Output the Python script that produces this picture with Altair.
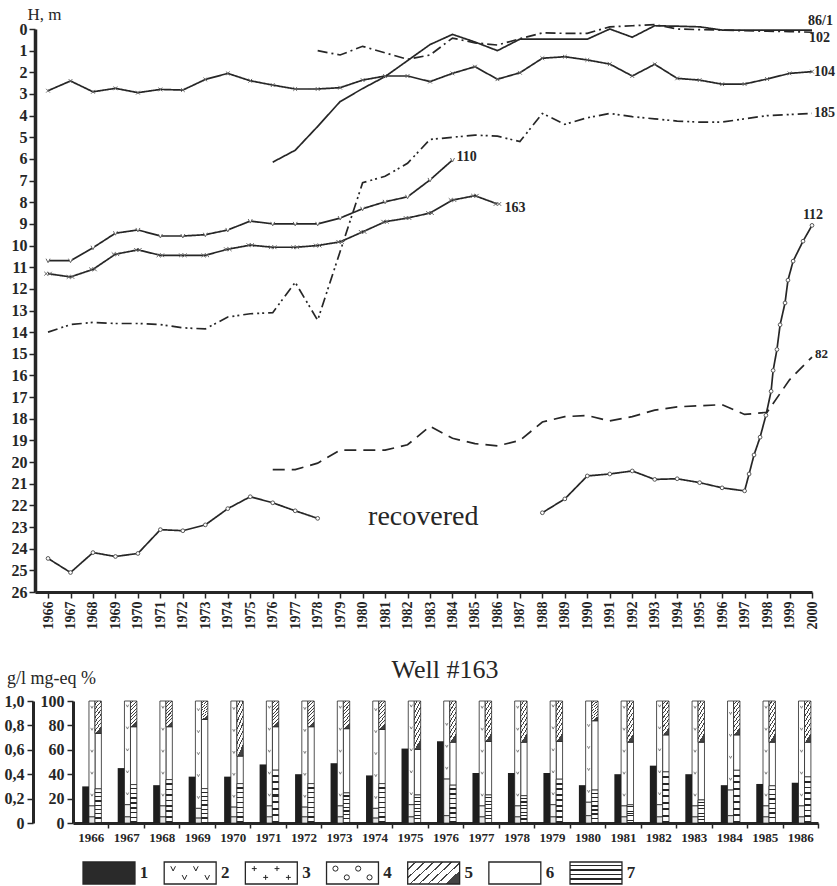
import altair as alt
import pandas as pd

# ============================ TOP PANEL DATA (H, m) ============================
years_104 = list(range(1966, 2001))
h_104 = [2.85, 2.40, 2.90, 2.74, 2.94, 2.79, 2.82, 2.33, 2.05, 2.39, 2.59, 2.77, 2.77, 2.71,
         2.36, 2.17, 2.17, 2.43, 2.05, 1.74, 2.32, 2.02, 1.35, 1.28, 1.43, 1.62, 2.17, 1.63,
         2.28, 2.36, 2.55, 2.54, 2.31, 2.05, 1.97]

years_861 = list(range(1976, 2001))
h_861 = [6.15, 5.6, 4.5, 3.35, 2.75, 2.2, 1.46, 0.72, 0.25, 0.6, 1.0, 0.47, 0.47, 0.47, 0.47,
         0.0, 0.38, -0.15, -0.13, -0.1, 0.05, 0.05, 0.05, 0.05, 0.05]

years_102 = list(range(1978, 2001))
h_102 = [1.0, 1.2, 0.8, 1.1, 1.4, 1.2, 0.42, 0.64, 0.74, 0.45, 0.18, 0.2, 0.2, -0.1, -0.15,
         -0.2, 0.0, 0.03, 0.05, 0.08, 0.1, 0.12, 0.15]

years_185 = list(range(1966, 1979)) + list(range(1980, 2001))
h_185 = [14.0, 13.65, 13.55, 13.6, 13.6, 13.65, 13.8, 13.85, 13.3, 13.15, 13.1, 11.7, 13.45,
         7.1, 6.8, 6.2, 5.1, 5.0, 4.9, 4.95, 5.2, 3.9, 4.4, 4.1, 3.9, 4.05, 4.15, 4.25, 4.3,
         4.3, 4.15, 4.0, 3.95, 3.9]

years_110 = list(range(1966, 1985))
h_110 = [10.7, 10.7, 10.1, 9.43, 9.28, 9.56, 9.56, 9.5, 9.28, 8.87, 9.0, 9.0, 9.0, 8.73, 8.3,
         7.98, 7.75, 6.97, 6.05]

years_163 = list(range(1966, 1987))
h_163 = [11.3, 11.45, 11.1, 10.4, 10.2, 10.45, 10.45, 10.45, 10.17, 9.98, 10.08, 10.08, 10.0,
         9.83, 9.37, 8.9, 8.73, 8.5, 7.9, 7.7, 8.08]

years_112a = list(range(1966, 1979))
h_112a = [24.45, 25.1, 24.18, 24.36, 24.22, 23.12, 23.17, 22.9, 22.15, 21.6, 21.88, 22.25, 22.6]

years_112b = [1988, 1989, 1990, 1991, 1992, 1993, 1994, 1995, 1996, 1997, 1997.2, 1997.42,
              1997.69, 1997.95, 1998.18, 1998.27, 1998.44, 1998.58, 1998.8, 1998.93, 1999.16,
              1999.6, 2000]
h_112b = [22.34, 21.7, 20.64, 20.55, 20.41, 20.8, 20.77, 20.95, 21.19, 21.33, 20.55, 19.67,
          18.85, 17.84, 16.73, 15.77, 14.8, 13.66, 12.65, 11.6, 10.72, 9.8, 9.07]

years_82 = list(range(1976, 2001))
h_82 = [20.35, 20.35, 20.05, 19.45, 19.45, 19.45, 19.2, 18.35, 18.9, 19.15, 19.25, 19.0, 18.15,
        17.9, 17.85, 18.1, 17.9, 17.6, 17.45, 17.4, 17.35, 17.8, 17.7, 16.2, 15.15]

top_ticks_x = list(range(1966, 2001))
top_ticks_y = list(range(0, 27))

# ============================ BOTTOM PANEL DATA (Well #163) ============================
chem_years = list(range(1966, 1987))
mineral_gl = [0.30, 0.45, 0.31, 0.38, 0.38, 0.48, 0.40, 0.49, 0.39, 0.61, 0.67, 0.41, 0.41,
              0.41, 0.31, 0.40, 0.47, 0.40, 0.31, 0.32, 0.33]
# left column (mg-eq %): top of component 4 and of component 3, rest is component 2
c4_top = [5, 5, 5, 4, 5, 5, 5, 5, 4, 5, 6, 5, 5, 5, 6, 5, 5, 5, 6, 5, 5]
c3_top = [14, 15, 14, 12, 13, 14, 13, 14, 12, 15, 36, 14, 14, 15, 17, 14, 15, 14, 27, 14, 14]
# right column (mg-eq %): top of component 7, bottom of component 5, between is component 6
c7_top = [28, 31.5, 35.6, 28.2, 32.3, 43.3, 32.3, 24.7, 32.3, 23, 31, 23, 22.4, 35.9, 27, 14.9,
          41.9, 18.9, 43.2, 30.5, 37.8]
c5_bottom = [73.4, 78.9, 78.9, 84.9, 54.8, 78.9, 78.9, 77.3, 76.7, 60.3, 66.2, 66.8, 66.2, 66.8,
             83.8, 66.2, 72.2, 66.2, 72.2, 66.2, 66.2]

legend_items = [1, 2, 3, 4, 5, 6, 7]
legend_labels = ["1", "2", "3", "4", "5", "6", "7"]

# ============================ TABLES ============================
def frame(well, years, values, seg=None):
    return pd.DataFrame({"well": well, "seg": seg or well, "year": years, "H": values})

lines_df = pd.concat([
    frame("86/1", years_861, h_861),
    frame("102", years_102, h_102),
    frame("104", years_104, h_104),
    frame("185", years_185, h_185),
    frame("110", years_110, h_110),
    frame("163", years_163, h_163),
    frame("112", years_112a, h_112a, "112a"),
    frame("112", years_112b, h_112b, "112b"),
    frame("82", years_82, h_82),
], ignore_index=True)

chem_df = pd.DataFrame({"year": chem_years, "gl": mineral_gl})
seg_rows = []
for i, yr in enumerate(chem_years):
    seg_rows += [
        {"year": yr, "col": "L", "pat": 4, "y0": 0, "y1": c4_top[i]},
        {"year": yr, "col": "L", "pat": 3, "y0": c4_top[i], "y1": c3_top[i]},
        {"year": yr, "col": "L", "pat": 2, "y0": c3_top[i], "y1": 100},
        {"year": yr, "col": "R", "pat": 7, "y0": 0, "y1": c7_top[i]},
        {"year": yr, "col": "R", "pat": 6, "y0": c7_top[i], "y1": c5_bottom[i]},
        {"year": yr, "col": "R", "pat": 5, "y0": c5_bottom[i], "y1": 100},
    ]
seg_df = pd.DataFrame(seg_rows)

# sparse "v" glyphs of component 2 inside the left columns
glyph_rows = []
for i, yr in enumerate(chem_years):
    lv = c3_top[i] + 9
    while lv < 97:
        glyph_rows.append({"year": yr, "lv": lv})
        lv += 18
glyph_df = pd.DataFrame(glyph_rows)

leg_df = pd.DataFrame({"item": legend_items, "label": legend_labels})
leg_glyph_rows = []
for item in (2, 3, 4):
    for k, (dx, row) in enumerate([(-0.21, 0.3), (-0.07, 0.7), (0.07, 0.3), (0.21, 0.7)]):
        leg_glyph_rows.append({"item": item, "gx": item + dx, "gy": row})
leg_glyph_df = pd.DataFrame(leg_glyph_rows)

# ============================ STYLE ============================
W, H = 837, 886
SERIF = "Liberation Serif"
INK = "#262626"

def stripes(n, frac_dark, x2, y2, dark=INK, light="white"):
    stops = []
    for k in range(n):
        a = k / n
        b = (k + 1 - frac_dark) / n
        c = (k + 1) / n
        stops += [{"offset": a, "color": light}, {"offset": b, "color": light},
                  {"offset": b, "color": dark}, {"offset": c, "color": dark}]
    return {"gradient": "linear", "x1": 0, "y1": 0, "x2": x2, "y2": y2, "stops": stops}

x_top = alt.Scale(domain=[1965.42, 2000.0], range=[35, 812], nice=False, zero=False)
y_top = alt.Scale(domain=[0, 26], range=[29, 592], nice=False, zero=False)
x_bot = alt.Scale(domain=[1965.5, 1986.5], range=[73, 818], nice=False, zero=False)
y_bot = alt.Scale(domain=[0, 100], range=[823, 701], nice=False, zero=False)
y_gl = alt.Scale(domain=[0, 1], range=[823, 701], nice=False, zero=False)
LEG_T, LEG_B = 862, 884
x_leg = alt.Scale(domain=[1, 7], range=[109, 596], nice=False, zero=False)
y_leg = alt.Scale(domain=[0, 1], range=[LEG_T, LEG_B], nice=False, zero=False)

ax_top_x = alt.Axis(orient="bottom", offset=-(H - 592), values=top_ticks_x, format="d",
                    labelAngle=270, labelFont=SERIF, labelFontWeight="bold", labelFontSize=14,
                    labelColor=INK, labelPadding=3, tickSize=6, tickColor=INK, tickWidth=1.5,
                    domainColor=INK, domainWidth=3, grid=False, title=None)
ax_top_y = alt.Axis(orient="left", offset=-35, values=top_ticks_y, labelFont=SERIF,
                    labelFontWeight="bold", labelFontSize=16, labelColor=INK, labelPadding=2,
                    tickSize=6, tickColor=INK, tickWidth=1.5, domainColor=INK, domainWidth=3.5,
                    grid=False, title="H, m", titleAngle=0, titleFont=SERIF,
                    titleFontWeight="normal", titleFontSize=17, titleColor=INK, titleX=-8,
                    titleY=14, titleAlign="left", titleBaseline="middle")

# ============================ TOP PANEL LAYERS ============================
wells = ["86/1", "102", "104", "185", "110", "163", "112", "82"]
dashes = [[1, 0], [10, 4, 2, 4], [1, 0], [10, 4, 2, 3, 2, 4], [1, 0], [1, 0], [1, 0], [12, 7]]

lines = alt.Chart(lines_df).mark_line(strokeWidth=1.7, color=INK).encode(
    x=alt.X("year:Q", scale=x_top, axis=ax_top_x),
    y=alt.Y("H:Q", scale=y_top, axis=ax_top_y),
    strokeDash=alt.StrokeDash("well:N", scale=alt.Scale(domain=wells, range=dashes), legend=None),
    detail="seg:N",
)

def markers(well, shape, size, filled=False):
    return alt.Chart(lines_df).transform_filter(alt.datum.well == well).mark_point(
        shape=shape, size=size, filled=filled, fill="white", stroke="#666", strokeWidth=1,
        opacity=1).encode(
        x=alt.X("year:Q", scale=x_top, axis=None),
        y=alt.Y("H:Q", scale=y_top, axis=None))

m104 = markers("104", "M-1,-1L1,1M-1,1L1,-1", 14)
m110 = markers("110", "M-1,-1L0,1L1,-1", 16)
m163 = markers("163", "M-2,-1L0,1M-2,1L0,-1M0,-1L2,1M0,1L2,-1", 14)
m112 = alt.Chart(lines_df).transform_filter(alt.datum.well == "112").mark_point(
    shape="circle", size=14, filled=True, fill="white", stroke="#555", strokeWidth=1,
    opacity=1).encode(x=alt.X("year:Q", scale=x_top, axis=None),
                      y=alt.Y("H:Q", scale=y_top, axis=None))

def end_label(text, year, h, dx, dy, align="left", size=14):
    d = pd.DataFrame({"year": [year], "H": [h], "t": [text]})
    return alt.Chart(d).mark_text(font=SERIF, fontWeight="bold", fontSize=size, color=INK,
                                  align=align, baseline="middle", dx=dx, dy=dy).encode(
        x=alt.X("year:Q", scale=x_top, axis=None),
        y=alt.Y("H:Q", scale=y_top, axis=None), text="t:N")

labels = [
    end_label("86/1", years_861[-1], h_861[-1], -4, -9),
    end_label("102", years_102[-1], h_102[-1], -3, 6),
    end_label("104", years_104[-1], h_104[-1], 2, 0),
    end_label("185", years_185[-1], h_185[-1], 2, 0),
    end_label("112", years_112b[-1], h_112b[-1], 1, -10, "center"),
    end_label("82", years_82[-1], h_82[-1], 3, -3, size=13),
    end_label("110", years_110[-1], h_110[-1], 4, -3),
    end_label("163", years_163[-1], h_163[-1], 7, 4),
]

recovered = alt.Chart(pd.DataFrame({"year": [1982.7], "H": [22.55], "t": ["recovered"]})).mark_text(
    font=SERIF, fontSize=28, color=INK, align="center", baseline="middle").encode(
    x=alt.X("year:Q", scale=x_top, axis=None), y=alt.Y("H:Q", scale=y_top, axis=None), text="t:N")

# ============================ BOTTOM PANEL LAYERS ============================
one = pd.DataFrame({"a": [0]})
title_b = alt.Chart(one).mark_text(text="Well #163", font=SERIF, fontSize=26, color=INK,
                                   align="center", baseline="middle").encode(
    x=alt.value(445), y=alt.value(670))
units_b = alt.Chart(one).mark_text(text="g/l mg-eq %", font=SERIF, fontSize=18, color=INK,
                                   align="left", baseline="middle").encode(
    x=alt.value(7), y=alt.value(679))

ax_gl = alt.Axis(orient="left", offset=-33, values=[0, 0.2, 0.4, 0.6, 0.8, 1.0],
                 labelExpr="datum.value == 0 ? '0' : replace(format(datum.value, '.1f'), '.', ',')",
                 labelFont=SERIF, labelFontWeight="bold", labelFontSize=16, labelColor=INK,
                 labelPadding=3, tickSize=6, tickColor=INK, tickWidth=1.5, domainColor=INK,
                 domainWidth=3, grid=False, title=None)
ax_pct = alt.Axis(orient="left", offset=-73, values=[0, 20, 40, 60, 80, 100],
                  labelFont=SERIF, labelFontWeight="bold", labelFontSize=16, labelColor=INK,
                  labelPadding=3, tickSize=6, tickColor=INK, tickWidth=1.5, domainColor=INK,
                  domainWidth=3, grid=False, title=None)
half = 745 / 21 / 2
ax_bx = alt.Axis(orient="bottom", offset=-(H - 823), values=chem_years, format="d",
                 tickOffset=half, labelOffset=-half, labelFont=SERIF, labelFontWeight="bold",
                 labelFontSize=13, labelColor=INK, labelPadding=3, tickSize=5, tickColor=INK,
                 tickWidth=1.5, domainColor=INK, domainWidth=3, grid=False, title=None)

mineral = alt.Chart(chem_df).transform_calculate(
    x0="datum.year - 0.24", x1="datum.year - 0.05").mark_rect(fill="#1e1e1e").encode(
    x=alt.X("x0:Q", scale=x_bot, axis=ax_bx), x2="x1:Q",
    y=alt.Y("gl:Q", scale=y_gl, axis=ax_gl), y2=alt.Y2(datum=0))

fills = {
    2: "white",
    3: "#f4f4f4",
    4: "#e6e6e6",
    5: stripes(8, 0.3, 0.25, 1, dark="#444"),
    6: "white",
    7: stripes(8, 0.32, 0, 1),
}

def seg_layer(pat, axis_y=None):
    return alt.Chart(seg_df).transform_filter(alt.datum.pat == pat).transform_calculate(
        x0="datum.year + (datum.col == 'L' ? -0.05 : 0.12)",
        x1="datum.year + (datum.col == 'L' ? 0.12 : 0.30)").mark_rect(
        fill=fills[pat], stroke=INK, strokeWidth=0.8).encode(
        x=alt.X("x0:Q", scale=x_bot, axis=None), x2="x1:Q",
        y=alt.Y("y0:Q", scale=y_bot, axis=axis_y), y2="y1:Q")

seg_layers = [seg_layer(6, ax_pct)] + [seg_layer(p) for p in (2, 3, 4, 5, 7)]

bar_glyphs = alt.Chart(glyph_df).transform_calculate(gx="datum.year + 0.035").mark_point(
    shape="M-1,-1L0,1L1,-1", size=6, filled=False, stroke="#666", strokeWidth=0.8,
    opacity=1).encode(x=alt.X("gx:Q", scale=x_bot, axis=None),
                      y=alt.Y("lv:Q", scale=y_bot, axis=None))

# ============================ LEGEND ============================
leg_fills = {
    1: "#2a2a2a", 2: "white", 3: "white", 4: "white",
    5: stripes(7, 0.18, 1, 0.46, dark="#444"), 6: "white", 7: stripes(5, 0.3, 0, 1),
}

def leg_box(item):
    return alt.Chart(leg_df).transform_filter(alt.datum.item == item).transform_calculate(
        x0="datum.item - 0.32", x1="datum.item + 0.32", y0="0", y1="1").mark_rect(
        fill=leg_fills[item], stroke=INK, strokeWidth=1.3).encode(
        x=alt.X("x0:Q", scale=x_leg, axis=None), x2="x1:Q",
        y=alt.Y("y0:Q", scale=y_leg, axis=None), y2="y1:Q")

leg_boxes = [leg_box(i) for i in legend_items]

glyph_shapes = {2: ("M-1,-1L0,1L1,-1", 22, False), 3: ("M-1,0L1,0M0,-1L0,1", 24, False),
                4: ("circle", 26, False)}

def leg_glyph(item):
    shape, size, filled = glyph_shapes[item]
    return alt.Chart(leg_glyph_df).transform_filter(alt.datum.item == item).mark_point(
        shape=shape, size=size, filled=filled, stroke=INK, strokeWidth=1, opacity=1).encode(
        x=alt.X("gx:Q", scale=x_leg, axis=None), y=alt.Y("gy:Q", scale=y_leg, axis=None))

leg_glyphs = [leg_glyph(i) for i in (2, 3, 4)]
leg_text = alt.Chart(leg_df).transform_calculate(xl="datum.item + 0.38", yl="0.5").mark_text(
    font=SERIF, fontWeight="bold", fontSize=17, color=INK, align="left",
    baseline="middle").encode(x=alt.X("xl:Q", scale=x_leg, axis=None),
                              y=alt.Y("yl:Q", scale=y_leg, axis=None), text="label:N")

# ============================ ASSEMBLY ============================
chart = alt.layer(
    lines, m104, m110, m163, m112, *labels, recovered,
    title_b, units_b, *seg_layers, bar_glyphs, mineral,
    *leg_boxes, *leg_glyphs, leg_text,
).resolve_scale(
    x="independent", y="independent", strokeDash="independent"
).properties(
    width=W, height=H, padding=0, autosize=alt.AutoSizeParams(type="none"),
    background="white",
).configure_view(strokeWidth=0)

chart.save("out.html", embed_options={"renderer": "svg", "actions": False})
